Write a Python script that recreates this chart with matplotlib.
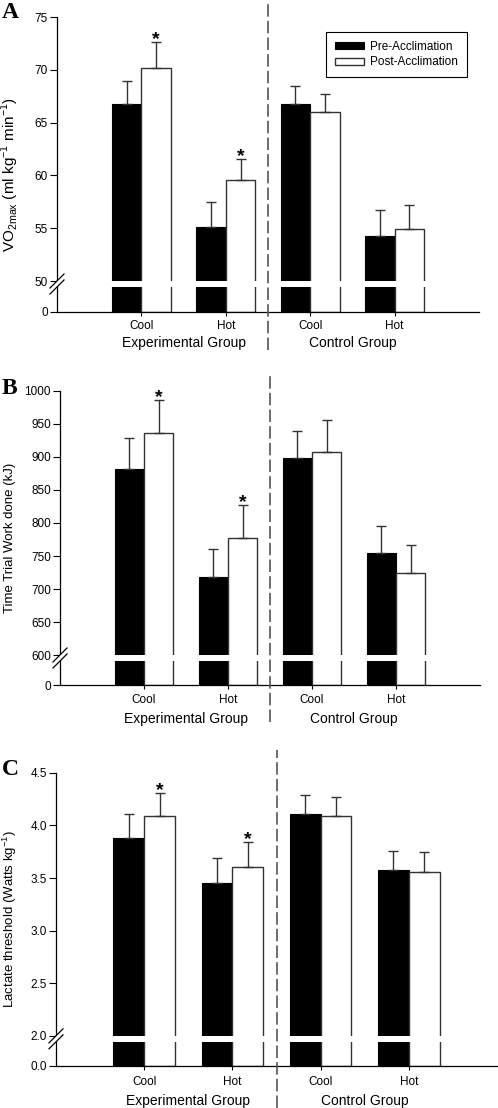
import numpy as np
import matplotlib.pyplot as plt
from matplotlib.lines import Line2D
from matplotlib.patches import Polygon
from matplotlib.transforms import IdentityTransform

plt.rcParams['font.family'] = 'Liberation Sans'
plt.rcParams['mathtext.fontset'] = 'custom'
plt.rcParams['mathtext.rm'] = 'Liberation Sans'

# data
cats = ['Cool', 'Hot', 'Cool', 'Hot']
groups = ['Experimental Group', 'Control Group']
series = ['Pre-Acclimation', 'Post-Acclimation']
sig = [True, True, False, False]   # asterisk above post bar

vo2_pre = [66.8, 55.1, 66.8, 54.3]
vo2_pre_err = [2.1, 2.4, 1.7, 2.4]
vo2_post = [70.2, 59.6, 66.0, 54.9]
vo2_post_err = [2.4, 2.0, 1.7, 2.3]

work_pre = [881, 719, 899, 754]
work_pre_err = [48, 41, 40, 42]
work_post = [936, 777, 907, 724]
work_post_err = [50, 50, 49, 43]

lt_pre = [3.88, 3.45, 4.11, 3.58]
lt_pre_err = [0.23, 0.24, 0.18, 0.18]
lt_post = [4.09, 3.60, 4.09, 3.56]
lt_post_err = [0.22, 0.24, 0.18, 0.19]

W, H = 498, 1108
fig = plt.figure(figsize=(W / 100, H / 100), dpi=100)


def px_axes(l, t, r, b):
    return fig.add_axes([l / W, 1 - b / H, (r - l) / W, (b - t) / H])


def broken_scale(brk, top, low_frac):
    def fwd(v):
        v = np.asarray(v, dtype=float)
        return np.where(v <= brk, v / brk * low_frac,
                        low_frac + (v - brk) / (top - brk) * (1 - low_frac))

    def inv(p):
        p = np.asarray(p, dtype=float)
        return np.where(p <= low_frac, p / low_frac * brk,
                        brk + (p - low_frac) / (1 - low_frac) * (top - brk))
    return fwd, inv


def panel(ax, pre, pre_err, post, post_err, brk, top, yticks, fmt, ylabel,
          letter, letter_y, label_x, label_y, tick_pad, grp_off, dash_lim,
          low_frac=0.103, gap_frac=0.19, label_size=9.5):
    x = np.arange(1, 5)
    w = 0.35
    ax.set_yscale('function', functions=broken_scale(brk, top, low_frac))
    ax.set_xlim(0, 5)
    ax.set_ylim(0, top)

    b1 = ax.bar(x - w / 2, pre, w, color='black', edgecolor='black', lw=0.8,
                label=series[0], zorder=1)
    b2 = ax.bar(x + w / 2, post, w, color='white', edgecolor='#333333', lw=1.0,
                label=series[1], zorder=1)
    ax.errorbar(x - w / 2, pre, yerr=[np.zeros(4), pre_err], fmt='none',
                ecolor='#333333', elinewidth=1, capsize=3.5, capthick=1, zorder=2)
    ax.errorbar(x + w / 2, post, yerr=[np.zeros(4), post_err], fmt='none',
                ecolor='#333333', elinewidth=1, capsize=3.5, capthick=1, zorder=2)

    for i in range(4):
        if sig[i]:
            ax.annotate('*', xy=(x[i] + w / 2, post[i] + post_err[i]),
                        xytext=(0, -1.5), textcoords='offset points',
                        ha='center', va='baseline', fontsize=14,
                        fontweight='bold')

    # white gap through the bars for the axis break
    gap_lo = brk * (1 - gap_frac)
    ax.axhspan(gap_lo, brk, xmin=0.005, xmax=1, color='white', lw=0, zorder=1.5)

    for s in ['top', 'right']:
        ax.spines[s].set_visible(False)
    for s in ['left', 'bottom']:
        ax.spines[s].set_linewidth(0.9)

    ax.set_yticks(yticks)
    ax.set_yticklabels([fmt % t for t in yticks])
    ax.set_xticks(x)
    ax.set_xticklabels(cats)
    ax.tick_params(axis='y', direction='out', length=5, width=0.8, pad=1.5,
                   labelsize=8.5)
    ax.tick_params(axis='x', direction='out', length=3, width=0.8, pad=tick_pad,
                   labelsize=8.5)

    ax.set_ylabel(ylabel, fontsize=label_size)
    ax.yaxis.set_label_coords(label_x, label_y)

    for gx, g in zip([1.5, 3.5], groups):
        ax.annotate(g, xy=(gx, 0), xycoords=('data', 'axes fraction'),
                    xytext=(0, -grp_off), textcoords='offset points',
                    ha='center', va='center', fontsize=10)

    dl = ax.axvline(2.5, ymin=dash_lim[0], ymax=dash_lim[1], color='#555555',
                    lw=1.2, clip_on=False, zorder=3)
    dl.set_dashes((7.5, 2.5))

    # "//" break marks on the y axis
    cx, cy = ax.transData.transform((0, (gap_lo + brk) / 2))
    up = [(cx - 7, cy + 3 - 7), (cx + 7, cy + 3 + 7)]
    dn = [(cx - 7, cy - 3 - 7), (cx + 7, cy - 3 + 7)]
    fig.add_artist(Polygon(up + dn[::-1], closed=True, facecolor='white',
                           edgecolor='none', transform=IdentityTransform(),
                           zorder=4))
    for seg in (up, dn):
        fig.add_artist(Line2D([seg[0][0], seg[1][0]], [seg[0][1], seg[1][1]],
                              color='black', lw=0.9,
                              transform=IdentityTransform(), zorder=5))

    fig.text(2 / W, 1 - letter_y / H, letter, family='Liberation Serif',
             fontweight='bold', fontsize=17, va='baseline', ha='left')
    return b1, b2


axA = px_axes(57, 17, 479, 312)
bA = panel(axA, vo2_pre, vo2_pre_err, vo2_post, vo2_post_err, 50, 75,
           [0, 50, 55, 60, 65, 70, 75], '%d',
           r'VO$_{\mathregular{2max}}$ (ml kg$^{\mathregular{-1}}$ min$^{\mathregular{-1}}$)',
           'A', 18.5, -0.085, 0.465, 2.5, 22.5, (-0.129, 1.058),
           low_frac=31 / 295, gap_frac=6 / 31, label_size=11)
axA.legend(handles=bA, loc='upper right', bbox_to_anchor=(0.9716, 0.949),
           fontsize=8.5, frameon=True, fancybox=False, edgecolor='black',
           framealpha=1, handlelength=2.5, handleheight=0.6,
           handletextpad=0.5, borderpad=0.75, labelspacing=0.3,
           borderaxespad=0).get_frame().set_linewidth(0.8)

axB = px_axes(60, 390.7, 480, 685.3)
panel(axB, work_pre, work_pre_err, work_post, work_post_err, 600, 1000,
      [0, 600, 650, 700, 750, 800, 850, 900, 950, 1000], '%d',
      'Time Trial Work done (kJ)',
      'B', 394, -0.105, 0.5, 3.5, 24.5, (-0.125, 1.063),
      low_frac=30 / 294.6, gap_frac=5.4 / 30)

axC = px_axes(56, 772.7, 497, 1066)
panel(axC, lt_pre, lt_pre_err, lt_post, lt_post_err, 2.0, 4.5,
      [0.0, 2.0, 2.5, 3.0, 3.5, 4.0, 4.5], '%.1f',
      r'Lactate threshold (Watts kg$^{\mathregular{-1}}$)',
      'C', 775, -0.083, 0.5, 4.0, 25.2, (-0.143, 1.077),
      low_frac=30 / 293.3, gap_frac=5.7 / 30)

fig.savefig('out.png', dpi=100)
